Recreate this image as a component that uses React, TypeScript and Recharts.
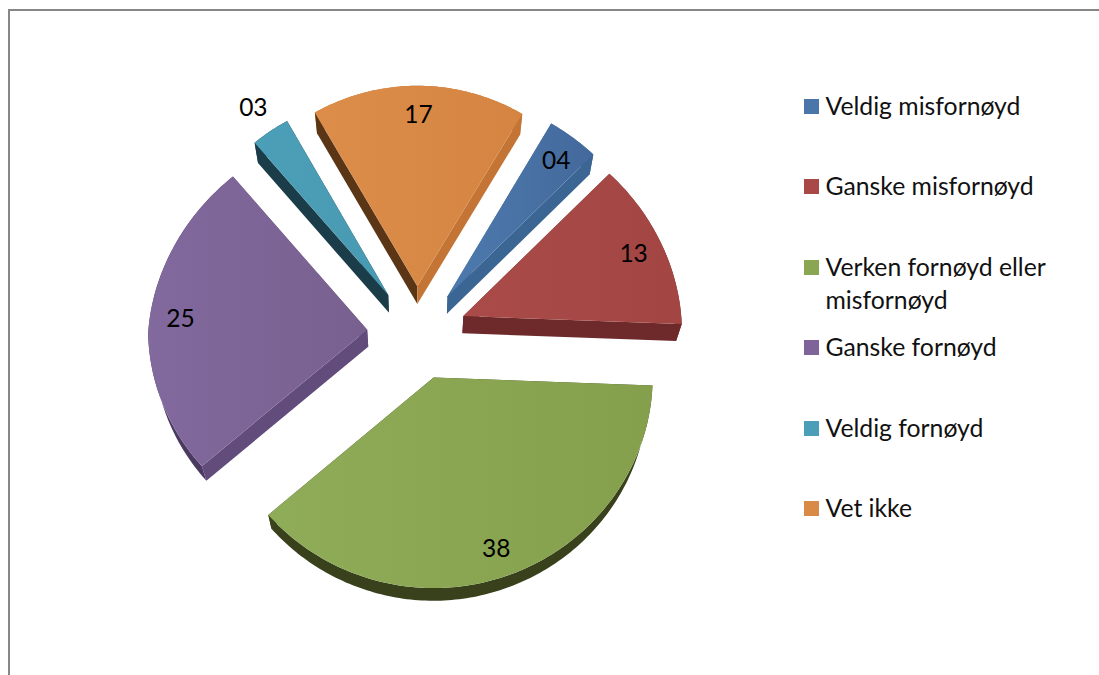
import React from "react";
import { PieChart, Pie, Legend } from "recharts";

const categories = ["Veldig misfornøyd", "Ganske misfornøyd", "Verken fornøyd eller misfornøyd", "Ganske fornøyd", "Veldig fornøyd", "Vet ikke"];
const values = [4, 13, 38, 25, 3, 17];
const topColors = ["#4a76a9", "#a84947", "#8aa653", "#7e6499", "#4a9eb8", "#d98a46"];
const lightColors = ["#4d7aae", "#aa4b49", "#8fac58", "#82699e", "#4c9fb8", "#dc8d4a"];
const darkColors = ["#44699c", "#a24543", "#85a04c", "#78608f", "#489ab2", "#d58541"];
const radialWallColors = ["#3b6593", "#6e2a2a", "#3a431c", "#614c7b", "#1b3d49", "#c47535"];
const leftWallColor = "#5a3616";
const arcWallColors = ["#3b6593", "#6e2a2a", "#38401c", "#4b3a60", "#1b3d49", "#c47535"];
const rows = categories.map((name, i) => ({ name, value: values[i], fill: topColors[i] }));

const EXPLODE = 50;
const Y_SCALE = 0.94;
const X_PERSPECTIVE = 0.064;
const Y_PERSPECTIVE_TOP = 0.018;
const Y_PERSPECTIVE_BOTTOM = 0.016;
const WALL_TAPER = 0.021;
const LABEL_INSIDE = 0.86;
const LABEL_OUTSIDE = 1.155;
const RAD = Math.PI / 180;
const FONT = "Lato, Carlito, sans-serif";

// tilts the flat pie coordinates that the library's angles give
function project(p: any, wx: number, wy: number) {
  const t = wy / p.outerRadius;
  const sx = 1 + X_PERSPECTIVE * Math.min(t, 0);
  const sy = 1 + (t < 0 ? Y_PERSPECTIVE_TOP : Y_PERSPECTIVE_BOTTOM) * t;
  return [p.cx + wx * sx, p.cy + wy * Y_SCALE * sy];
}

function slicePoint(p: any, midDeg: number, deg: number, r: number) {
  const wx = EXPLODE * Math.cos(midDeg * RAD) + r * Math.cos(deg * RAD);
  const wy = -EXPLODE * Math.sin(midDeg * RAD) - r * Math.sin(deg * RAD);
  return project(p, wx, wy);
}

// the lower rim of a wall: nearer the viewer the wall looks shorter, and it leans towards the axis
function wallFoot(p: any, pt: number[]) {
  const d = Math.min(22, Math.max(12.7, 17 - (pt[1] - p.cy) / 57));
  return [p.cx + (pt[0] - p.cx) * (1 - WALL_TAPER), pt[1] + d];
}

const toPath = (pts: number[][]) =>
  pts.map(([x, y], k) => `${k ? "L" : "M"}${x.toFixed(2)},${y.toFixed(2)}`).join(" ") + " Z";

function Slice3D(p: any) {
  const i = categories.indexOf(p.name ?? p.payload?.name);
  const mid = (p.startAngle + p.endAngle) / 2;
  const span = p.endAngle - p.startAngle;
  const steps = Math.max(2, Math.ceil(Math.abs(span)));
  const arc: number[][] = [];
  for (let k = 0; k <= steps; k++) {
    arc.push(slicePoint(p, mid, p.startAngle + (span * k) / steps, p.outerRadius));
  }
  const tip = slicePoint(p, mid, 0, 0);
  const s = arc[0];
  const e = arc[arc.length - 1];
  const gid = `top-grad-${i}`;
  return (
    <g>
      <defs>
        <linearGradient id={gid} x1="0" y1="0" x2="1" y2="0">
          <stop offset="0" stopColor={lightColors[i]} />
          <stop offset="1" stopColor={darkColors[i]} />
        </linearGradient>
      </defs>
      <path d={toPath([...arc, ...arc.map((q) => wallFoot(p, q)).reverse()])} fill={arcWallColors[i]} />
      <path d={toPath([tip, s, wallFoot(p, s), wallFoot(p, tip)])} fill={i === 5 ? leftWallColor : radialWallColors[i]} />
      <path d={toPath([tip, e, wallFoot(p, e), wallFoot(p, tip)])} fill={radialWallColors[i]} />
      <path d={toPath([tip, ...arc])} fill={`url(#${gid})`} />
    </g>
  );
}

function SliceLabel(p: any) {
  const factor = p.value <= 3 ? LABEL_OUTSIDE : LABEL_INSIDE;
  const [x, y] = slicePoint(p, p.midAngle, p.midAngle, p.outerRadius * factor);
  return (
    <text x={x} y={y} textAnchor="middle" dominantBaseline="central" fontFamily={FONT} fontSize={24.5} fill="#000">
      {String(p.value).padStart(2, "0")}
    </text>
  );
}

function LegendList({ payload }: any) {
  return (
    <div style={{ fontFamily: FONT, fontSize: 24.75, lineHeight: "33.5px", color: "#111" }}>
      {(payload ?? []).map((e: any) => (
        <div key={e.value} style={{ height: 80.4, display: "flex", alignItems: "flex-start" }}>
          <span style={{ width: 15, height: 15, background: e.color, marginTop: 10, marginRight: 7, flex: "none" }} />
          <span style={{ width: 260 }}>{e.value}</span>
        </div>
      ))}
    </div>
  );
}

export default function App() {
  return (
    <div style={{ position: "fixed", left: 0, top: 0, width: 1099, height: 675, overflow: "hidden", background: "#fff" }}>
      <div style={{ position: "absolute", left: 8, top: 9, width: 2000, height: 2000, border: "2px solid #878787" }} />
      <div style={{ position: "absolute", left: 0, top: 0 }}>
        <PieChart width={1099} height={675} margin={{ top: 0, right: 0, bottom: 0, left: 0 }}>
          <Pie
            data={rows}
            dataKey="value"
            nameKey="name"
            cx={417}
            cy={333}
            innerRadius={0}
            outerRadius={219}
            startAngle={59}
            endAngle={-301}
            stroke="none"
            isAnimationActive={false}
            shape={Slice3D}
            label={SliceLabel}
            labelLine={false}
          />
          <Legend
            layout="vertical"
            align="right"
            verticalAlign="top"
            itemSorter={null as any}
            content={LegendList as any}
            wrapperStyle={{ left: 803.5, top: 89, width: 290, right: "auto" }}
          />
        </PieChart>
      </div>
    </div>
  );
}
